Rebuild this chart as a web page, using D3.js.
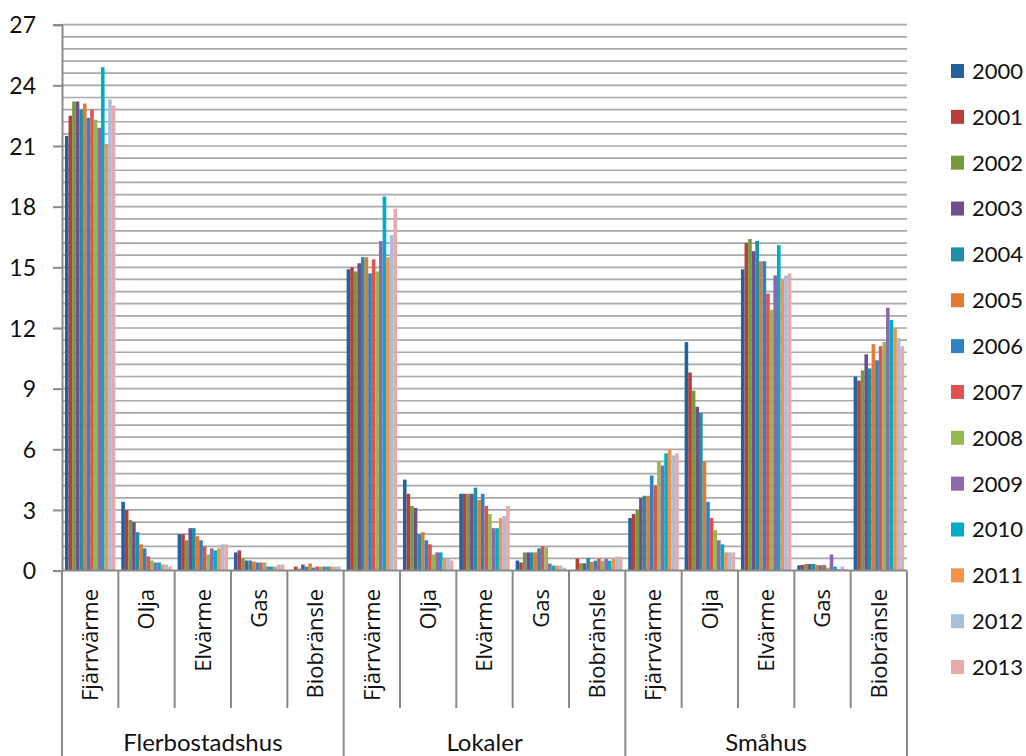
<!DOCTYPE html>
<html>
<head>
<meta charset="utf-8">
<script src="https://cdn.jsdelivr.net/npm/d3@7"></script>
<style>
  html, body { margin: 0; padding: 0; background: #fff; }
  svg { display: block; }
</style>
</head>
<body>
<svg id="chart" width="1026" height="756"></svg>
<script>
// Building types and heating sources (two-level category axis)
const groups = ["Flerbostadshus", "Lokaler", "Småhus"];
const fuels = ["Fjärrvärme", "Olja", "Elvärme", "Gas", "Biobränsle"];
const years = ["2000", "2001", "2002", "2003", "2004", "2005", "2006",
               "2007", "2008", "2009", "2010", "2011", "2012", "2013"];
const yTicks = [0, 3, 6, 9, 12, 15, 18, 21, 24, 27];

// One array per year, values in category order:
// Flerbostadshus x5, Lokaler x5, Småhus x5 (Fjärrvärme, Olja, Elvärme, Gas, Biobränsle)
const v2000 = [21.5, 3.4, 1.8, 0.9, 0,    14.9, 4.5, 3.8, 0.5,  0,    2.6, 11.3, 14.9, 0.26, 9.6];
const v2001 = [22.5, 3.0, 1.8, 1.0, 0.2,  15.0, 3.8, 3.8, 0.4,  0.6,  2.8, 9.8,  16.2, 0.28, 9.4];
const v2002 = [23.2, 2.5, 1.5, 0.6, 0.1,  14.8, 3.2, 3.8, 0.9,  0.36, 3.0, 8.9,  16.4, 0.33, 9.9];
const v2003 = [23.2, 2.4, 2.1, 0.5, 0.3,  15.2, 3.1, 3.8, 0.9,  0.36, 3.6, 8.1,  15.8, 0.33, 10.7];
const v2004 = [22.8, 1.9, 2.1, 0.5, 0.2,  15.5, 1.8, 4.1, 0.9,  0.63, 3.7, 7.8,  16.3, 0.33, 10.0];
const v2005 = [23.1, 1.3, 1.7, 0.45, 0.35, 15.5, 1.9, 3.5, 0.9, 0.43, 3.7, 5.4,  15.3, 0.28, 11.2];
const v2006 = [22.4, 1.1, 1.5, 0.4, 0.15, 14.7, 1.5, 3.8, 1.1,  0.49, 4.7, 3.4,  15.3, 0.26, 10.4];
const v2007 = [22.8, 0.7, 1.2, 0.4, 0.2,  15.4, 1.3, 3.2, 1.2,  0.58, 4.2, 2.6,  13.7, 0.28, 11.1];
const v2008 = [22.3, 0.5, 0.8, 0.4, 0.2,  14.8, 0.8, 2.8, 1.15, 0.49, 5.4, 2.0,  12.9, 0.15, 11.3];
const v2009 = [21.9, 0.4, 1.1, 0.2, 0.2,  16.3, 0.9, 2.1, 0.35, 0.58, 5.2, 1.5,  14.6, 0.8,  13.0];
const v2010 = [24.9, 0.4, 1.0, 0.2, 0.2,  18.5, 0.9, 2.1, 0.25, 0.49, 5.8, 1.3,  16.1, 0.2,  12.4];
const v2011 = [21.1, 0.3, 1.1, 0.2, 0.2,  15.5, 0.6, 2.6, 0.25, 0.58, 6.0, 0.9,  14.4, 0.08, 12.0];
const v2012 = [23.3, 0.3, 1.3, 0.3, 0.2,  16.6, 0.6, 2.7, 0.25, 0.69, 5.7, 0.9,  14.6, 0.2,  11.5];
const v2013 = [23.0, 0.2, 1.3, 0.3, 0.2,  17.9, 0.5, 3.2, 0.15, 0.69, 5.8, 0.9,  14.7, 0.08, 11.1];

const seriesValues = [v2000, v2001, v2002, v2003, v2004, v2005, v2006,
                      v2007, v2008, v2009, v2010, v2011, v2012, v2013];

const colors = ["#23629e", "#b83d3b", "#78993d", "#6e4f8b", "#1f8fa5", "#e27a2f", "#2d83c4",
                "#e05252", "#93ba51", "#8c68ad", "#00adc9", "#f5924a", "#a8bedd", "#e8aaa9"];

// Flat list of categories (group, fuel)
const categories = [];
groups.forEach(g => fuels.forEach(f => categories.push({ group: g, fuel: f, key: g + "|" + f })));

const svg = d3.select("#chart");
const plot = { left: 62, right: 907, top: 24.7, bottom: 570.6 };

const x0 = d3.scaleBand()
  .domain(categories.map(c => c.key))
  .range([plot.left, plot.right])
  .paddingInner(0).paddingOuter(0);

const x1 = d3.scaleBand()
  .domain(years)
  .range([0, x0.bandwidth()])
  .paddingInner(0)
  .paddingOuter(0.82);

const y = d3.scaleLinear().domain([0, 27]).range([plot.bottom, plot.top]);

const axisColor = "#8a8a8a";
const gridColor = "#a9a9a9";

// Horizontal gridlines every 0.6
const gridVals = d3.range(1, 46).map(i => +(i * 0.6).toFixed(1));
svg.append("g")
  .selectAll("line")
  .data(gridVals)
  .join("line")
  .attr("x1", plot.left)
  .attr("x2", plot.right)
  .attr("y1", d => y(d))
  .attr("y2", d => y(d))
  .attr("stroke", gridColor)
  .attr("stroke-width", 1.7);

// Value axis
const yAxis = d3.axisLeft(y).tickValues(yTicks).tickSize(9).tickPadding(17).tickFormat(d3.format("d"));
const yg = svg.append("g").attr("transform", `translate(${plot.left},0)`).call(yAxis);
yg.select(".domain").attr("stroke", axisColor).attr("stroke-width", 2);
yg.selectAll(".tick line").attr("stroke", axisColor).attr("stroke-width", 2);
yg.selectAll(".tick text")
  .attr("fill", "#111")
  .style("font-family", "Lato, 'Open Sans', sans-serif")
  .style("font-size", "23px")
  .attr("dy", "0.36em");

// Bars
const catGroups = svg.append("g")
  .selectAll("g")
  .data(categories.map((c, ci) => ({ c, ci })))
  .join("g")
  .attr("transform", d => `translate(${x0(d.c.key)},0)`);

catGroups.selectAll("rect")
  .data(d => years.map((yr, si) => ({ yr, si, v: seriesValues[si][d.ci] })))
  .join("rect")
  .attr("x", d => x1(d.yr))
  .attr("width", x1.bandwidth())
  .attr("y", d => y(d.v))
  .attr("height", d => y(0) - y(d.v))
  .attr("fill", d => colors[d.si]);

// Category axis baseline
svg.append("line")
  .attr("x1", plot.left).attr("x2", plot.right)
  .attr("y1", plot.bottom).attr("y2", plot.bottom)
  .attr("stroke", axisColor).attr("stroke-width", 2);

// Category separators: short for fuels, full height at group borders
const boundaries = d3.range(categories.length + 1).map(i => ({
  x: plot.left + i * x0.step(),
  major: i % fuels.length === 0
}));
svg.append("g")
  .selectAll("line")
  .data(boundaries)
  .join("line")
  .attr("x1", d => d.x).attr("x2", d => d.x)
  .attr("y1", plot.bottom)
  .attr("y2", d => d.major ? 756 : 708)
  .attr("stroke", axisColor)
  .attr("stroke-width", 2);

// Fuel labels (rotated)
svg.append("g")
  .selectAll("text")
  .data(categories)
  .join("text")
  .attr("transform", d => `translate(${x0(d.key) + x0.bandwidth() / 2},589) rotate(-90)`)
  .attr("text-anchor", "end")
  .attr("dy", "0.36em")
  .attr("fill", "#111")
  .style("font-family", "'Open Sans', sans-serif")
  .style("font-size", "22px")
  .text(d => d.fuel);

// Group labels
svg.append("g")
  .selectAll("text")
  .data(groups)
  .join("text")
  .attr("x", (g, i) => plot.left + (i + 0.5) * fuels.length * x0.step())
  .attr("y", 751)
  .attr("text-anchor", "middle")
  .attr("fill", "#111")
  .style("font-family", "Lato, 'Open Sans', sans-serif")
  .style("font-size", "24px")
  .text(d => d);

// Legend
const legend = svg.append("g")
  .selectAll("g")
  .data(years)
  .join("g")
  .attr("transform", (d, i) => `translate(951,${71 + i * 45.85})`);
legend.append("rect")
  .attr("x", 0).attr("y", -7)
  .attr("width", 13).attr("height", 14)
  .attr("fill", (d, i) => colors[i]);
legend.append("text")
  .attr("x", 21)
  .attr("dy", "0.36em")
  .attr("fill", "#111")
  .style("font-family", "Lato, 'Open Sans', sans-serif")
  .style("font-size", "22px")
  .text(d => d);
</script>
</body>
</html>
